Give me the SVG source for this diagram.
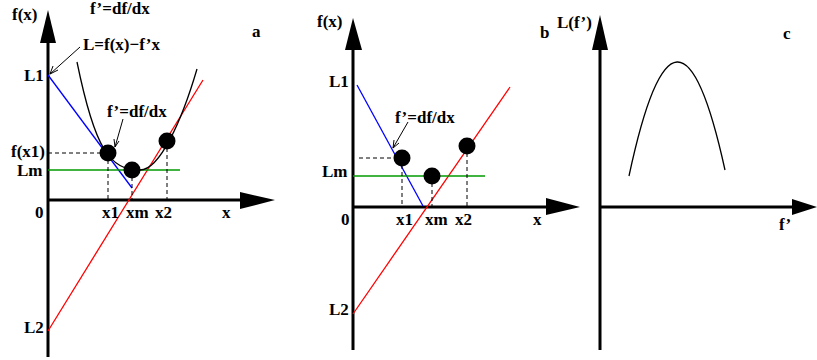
<svg xmlns="http://www.w3.org/2000/svg" width="817" height="360" viewBox="0 0 817 360">
<defs>
<style>
text{font-family:"Liberation Serif","Times New Roman",serif;font-weight:bold;font-size:17px;fill:#000}
.ax{stroke:#000;stroke-width:3;fill:none}
.ah{fill:#000;stroke:none}
.blue{stroke:#0000ff;stroke-width:1.3;fill:none}
.red{stroke:#ff0000;stroke-width:1.3;fill:none}
.green{stroke:#009a00;stroke-width:1.4;fill:none}
.dash{stroke:#000;stroke-width:1;stroke-dasharray:4,3;fill:none}
.crv{stroke:#000;stroke-width:1.3;fill:none}
.ptr{stroke:#000;stroke-width:1;fill:none}
.dot{fill:#000}
</style>
</defs>
<rect width="817" height="360" fill="#fff"/>

<g id="panel-a">
  <g id="a-axes">
    <line class="ax" x1="48" y1="357" x2="48" y2="40"/>
    <polygon class="ah" points="48,10 40,43 56,43"/>
    <line class="ax" x1="48" y1="200" x2="243" y2="200"/>
    <polygon class="ah" points="275,200 240,192 240,209"/>
  </g>
  <g id="a-connectors">
    <line class="blue" x1="48" y1="75" x2="132" y2="188"/>
    <line class="red" x1="48" y1="331" x2="203" y2="80"/>
    <line class="green" x1="48" y1="170" x2="180" y2="170"/>
    <path class="crv" d="M77,62 C95,150 110,170 140,170 C160,170 182,120 197,69"/>
    <path class="dash" d="M48,153 H108 M108,153 V200 M132,170 V200 M167,141 V200"/>
    <path class="ptr" d="M80,47 L50,74 M50,74 L53,66 M50,74 L58,70"/>
    <path class="ptr" d="M123,119 L115,147 M115,147 L114,139 M115,147 L119,141"/>
  </g>
  <g id="a-dots">
    <circle class="dot" cx="108" cy="153" r="8.5"/>
    <circle class="dot" cx="132" cy="170" r="8.5"/>
    <circle class="dot" cx="167" cy="141" r="8.5"/>
  </g>
  <g id="a-labels">
    <text x="12" y="20" font-size="18">f(x)</text>
    <text x="90" y="14">f’=df/dx</text>
    <text x="252" y="37">a</text>
    <text x="83" y="50">L=f(x)−f’x</text>
    <text x="24" y="81">L1</text>
    <text x="107" y="117">f’=df/dx</text>
    <text x="11" y="157">f(x1)</text>
    <text x="17" y="176">Lm</text>
    <text x="35" y="218">0</text>
    <text x="102" y="218">x1</text>
    <text x="126" y="218">xm</text>
    <text x="155" y="218">x2</text>
    <text x="222" y="218">x</text>
    <text x="24" y="333">L2</text>
  </g>
</g>

<g id="panel-b">
  <g id="b-axes">
    <line class="ax" x1="353" y1="350" x2="353" y2="47"/>
    <polygon class="ah" points="353,18 345,50 362,50"/>
    <line class="ax" x1="353" y1="207" x2="548" y2="207"/>
    <polygon class="ah" points="580,207 546,198 546,215"/>
  </g>
  <g id="b-connectors">
    <line class="blue" x1="357" y1="85" x2="423" y2="206"/>
    <line class="red" x1="353" y1="314" x2="510" y2="87"/>
    <line class="green" x1="353" y1="176" x2="485" y2="176"/>
    <path class="dash" d="M359,158 H402 M402,158 V207 M432,176 V207 M467,146 V207"/>
    <path class="ptr" d="M408,122 L393,148 M393,148 L394,140 M393,148 L399,143"/>
  </g>
  <g id="b-dots">
    <circle class="dot" cx="402" cy="158" r="8.5"/>
    <circle class="dot" cx="432" cy="176" r="8.5"/>
    <circle class="dot" cx="467" cy="146" r="8.5"/>
  </g>
  <g id="b-labels">
    <text x="317" y="27" font-size="18">f(x)</text>
    <text x="540" y="38">b</text>
    <text x="329" y="87">L1</text>
    <text x="395" y="123">f’=df/dx</text>
    <text x="322" y="177">Lm</text>
    <text x="341" y="225">0</text>
    <text x="396" y="225">x1</text>
    <text x="425" y="225">xm</text>
    <text x="455" y="225">x2</text>
    <text x="533" y="225">x</text>
    <text x="329" y="315">L2</text>
  </g>
</g>

<g id="panel-c">
  <g id="c-axes">
    <line class="ax" x1="600" y1="350" x2="600" y2="47"/>
    <polygon class="ah" points="600,15 592,50 608,50"/>
    <line class="ax" x1="600" y1="207" x2="794" y2="207"/>
    <polygon class="ah" points="817,207 792,199 792,215"/>
  </g>
  <g id="c-connectors">
    <path class="crv" d="M629,176 Q677,-49 725,170"/>
  </g>
  <g id="c-labels">
    <text x="557" y="28" font-size="18">L(f’)</text>
    <text x="783" y="39">c</text>
    <text x="779" y="230">f’</text>
  </g>
</g>
</svg>
